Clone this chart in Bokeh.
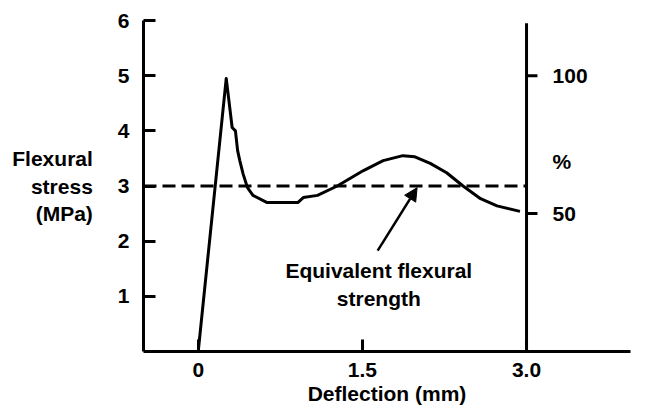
from bokeh.plotting import figure
from bokeh.models import (Range1d, FixedTicker, Label, Arrow, NormalHead, ColumnDataSource)
from bokeh.core.properties import value
from bokeh.embed import file_html
from bokeh.resources import INLINE

# ---- data ----
deflection = [0.0, 0.256, 0.31, 0.34, 0.36, 0.38, 0.41, 0.45, 0.50, 0.63, 0.91, 0.96,
              1.09, 1.27, 1.51, 1.69, 1.87, 1.98, 2.12, 2.27, 2.42, 2.58, 2.73, 2.94]
stress = [0.0, 4.95, 4.06, 4.0, 3.64, 3.46, 3.22, 2.97, 2.83, 2.70, 2.70, 2.79,
          2.83, 3.0, 3.28, 3.46, 3.55, 3.53, 3.41, 3.24, 3.0, 2.77, 2.64, 2.54]
equivalent_strength = 3.0
x_ticks = [0, 1.5, 3.0]
x_tick_labels = ["0", "1.5", "3.0"]
y_ticks = [1, 2, 3, 4, 5, 6]
pct_ticks = [50, 100]          # right-hand % scale
pct_per_mpa = 100 / 5.0        # 100 % corresponds to 5 MPa
right_axis_x = 3.0

FONT = "Liberation Sans"
FS = "21px"

p = figure(width=637, height=404, output_backend="svg", toolbar_location=None,
           x_range=Range1d(-0.5, 3.95), y_range=Range1d(0, 6),
           frame_width=487, frame_height=331,
           min_border_left=143, min_border_right=7, min_border_top=20, min_border_bottom=53)
p.outline_line_color = None
p.xgrid.visible = False
p.ygrid.visible = False
p.background_fill_color = "white"

# axes
for ax in (p.xaxis[0], p.yaxis[0]):
    ax.axis_line_width = 3
    ax.axis_line_color = "black"
    ax.major_tick_line_width = 3
    ax.major_tick_in = 12
    ax.major_tick_out = 0
    ax.minor_tick_line_color = None
    ax.major_label_text_font = FONT
    ax.major_label_text_font_style = "bold"
    ax.major_label_text_font_size = FS
    ax.major_label_text_color = "black"
    ax.axis_label_text_font = FONT
    ax.axis_label_text_font_style = "bold"
    ax.axis_label_text_font_size = FS
    ax.axis_label_text_color = "black"

p.yaxis.ticker = FixedTicker(ticks=y_ticks)
p.yaxis.major_label_standoff = 14
p.yaxis.axis_label = "Flexural\nstress\n(MPa)"
p.yaxis.axis_label_orientation = "horizontal"
p.yaxis.axis_label_standoff = 22

p.xaxis.ticker = FixedTicker(ticks=x_ticks)
p.xaxis.major_label_overrides = {t: l for t, l in zip(x_ticks, x_tick_labels)}
p.xaxis.major_label_standoff = 11
p.xaxis.axis_label = "Deflection (mm)"
p.xaxis.axis_label_standoff = 2

# dashed equivalent-strength line (from left axis to right axis)
p.line([-0.5, right_axis_x], [equivalent_strength, equivalent_strength],
       line_color="black", line_width=3, line_dash="13 6")

# stress-deflection curve
p.line(deflection, stress, line_color="black", line_width=3, line_join="round")

# right-hand % axis drawn at x = 3.0
p.line([right_axis_x, right_axis_x], [0, 5.95], line_color="black", line_width=3)
pct_mpa = [v / pct_per_mpa for v in pct_ticks]
p.segment(x0=[right_axis_x] * len(pct_mpa), y0=pct_mpa,
          x1=[right_axis_x + 0.1] * len(pct_mpa), y1=pct_mpa,
          line_color="black", line_width=3)
src = ColumnDataSource(dict(x=[right_axis_x] * len(pct_mpa), y=pct_mpa,
                            t=[str(v) for v in pct_ticks]))
p.text(x="x", y="y", text="t", source=src, x_offset=26, text_align="left",
       text_baseline="middle", text_font=value(FONT),
       text_font_style="bold", text_font_size=FS, text_color="black")
p.add_layout(Label(x=right_axis_x, y=69 / pct_per_mpa, x_offset=26, text="%",
                   text_align="left", text_baseline="middle", text_font=FONT,
                   text_font_style="bold", text_font_size=FS, text_color="black"))

# annotation
p.add_layout(Label(x=1.65, y=1.47, text="Equivalent flexural", text_align="center",
                   text_baseline="middle", text_font=FONT, text_font_style="bold",
                   text_font_size=FS, text_color="black"))
p.add_layout(Label(x=1.65, y=0.96, text="strength", text_align="center",
                   text_baseline="middle", text_font=FONT, text_font_style="bold",
                   text_font_size=FS, text_color="black"))
p.add_layout(Arrow(end=NormalHead(size=13, fill_color="black", line_color="black"),
                   x_start=1.64, y_start=1.83, x_end=2.0, y_end=2.97,
                   line_color="black", line_width=2.5))

open("out.html", "w").write(file_html(p, INLINE))
